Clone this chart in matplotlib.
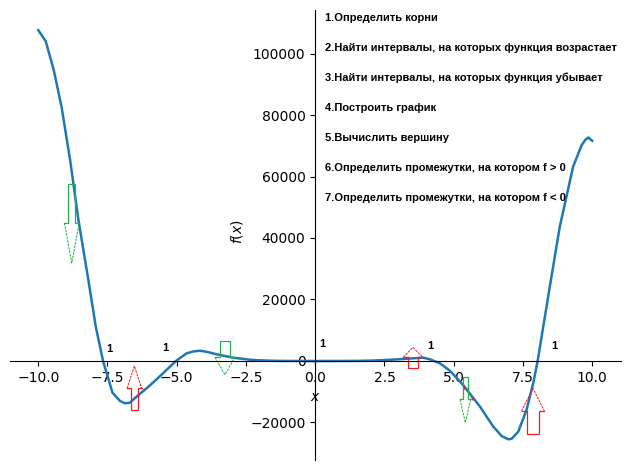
import matplotlib
matplotlib.use("Agg")
import matplotlib.pyplot as plt

# curve values
x_vals = [-10, -9.73, -9.44, -9.16, -8.85, -8.55, -8.19, -7.92, -7.66, -7.32, -7.05, -6.87, -6.7,
          -6.45, -6.0, -5.6, -5.03, -4.64, -4.4, -4.16, -3.9, -3.56, -2.96, -2.36, -2.1, -1.5, -1, 0,
          1, 1.5, 2, 2.5, 3, 3.5, 3.9, 4.14, 4.5, 4.86, 5.34, 5.95, 6.43, 6.73, 6.97, 7.09, 7.33,
          7.63, 7.87, 8.03, 8.47, 8.83, 9.07, 9.31, 9.62, 9.75, 9.86, 10]
y_vals = [107600, 104000, 94600, 82700, 65400, 45900, 26300, 11000, 0, -10300, -13000, -13750, -13600,
          -11600, -8200, -4900, 0, 2500, 3100, 3350, 2950, 2180, 1070, 420, 250, 60, 10, 0,
          10, 40, 120, 300, 550, 850, 1070, 550, -750, -3150, -7800, -14860, -21350, -24400, -25470, -25300, -23000,
          -15900, -7250, 0, 24200, 43700, 53400, 63200, 70200, 71900, 72700, 71600]

# hand drawn arrows: centre x, tail y, head base y, tip y, half widths of shaft and head
green_arrows = [(-8.79, 57560, 44880, 31870, 0.127, 0.265),
                (-3.26, 6400, 1200, -4450, 0.17, 0.36),
                (5.42, -5300, -12450, -20060, 0.097, 0.193)]
red_arrows = [(-6.53, -16030, -8880, -1630, 0.134, 0.26),
              (3.53, -2180, 1200, 4450, 0.17, 0.35),
              (7.86, -23840, -16260, -8880, 0.206, 0.41)]

# bits of an older red arrow still visible next to the green one
red_bits_x = [(5.36, 5.40), (5.65, 5.69)]
red_bits_y = [(-8130, -9200), (-11800, -12700)]

# the small "1" labels on the plot
one_x = [-7.42, -5.43, 0.27, 4.15, 8.62]
one_y = [3900, 4230, 5530, 4880, 4880]

tasks = ["1.Определить корни",
         "2.Найти интервалы, на которых функция возрастает",
         "3.Найти интервалы, на которых функция убывает",
         "4.Построить график",
         "5.Вычислить вершину",
         "6.Определить промежутки, на котором f > 0",
         "7.Определить промежутки, на котором f < 0"]
task_rows = [18, 48, 78, 108, 138, 168, 198]

fig = plt.figure(figsize=(6.3, 4.7), dpi=100)
ax = fig.add_axes([10 / 630, 10 / 470, 611 / 630, 450 / 470])

ax.plot(x_vals, y_vals, color="C0", linewidth=1.8)
ax.set_xlim(-11.02, 11.04)
ax.set_ylim(-32200, 114150)

ax.spines["left"].set_position("zero")
ax.spines["bottom"].set_position("zero")
ax.spines["top"].set_visible(False)
ax.spines["right"].set_visible(False)

ax.set_xticks([-10, -7.5, -5, -2.5, 0, 2.5, 5, 7.5, 10])
ax.set_yticks([-20000, 0, 20000, 40000, 60000, 80000, 100000])
ax.set_xlabel("$x$", va="center")
ax.set_ylabel("$f(x)$", va="center")
ax.xaxis.set_label_coords(0.5, 0.14)
ax.yaxis.set_label_coords(0.3715, 0.507)


def draw_arrow(arrow, color):
    cx, tail, base, tip, shaft, head = arrow
    # shaft and head base are solid, the slanted head edges look dotted in the original
    xs = [cx - head, cx - shaft, cx - shaft, cx + shaft, cx + shaft, cx + head]
    ys = [base, base, tail, tail, base, base]
    ax.plot(xs, ys, color=color, linewidth=0.9, snap=True, solid_joinstyle="miter")
    ax.plot([cx - head, cx, cx + head], [base, tip, base], color=color, linewidth=0.72,
            linestyle=(0, (2.5, 1)))


for arrow in green_arrows:
    draw_arrow(arrow, "#22b14c")
for arrow in red_arrows:
    draw_arrow(arrow, "#ed1c24")
for bx, by in zip(red_bits_x, red_bits_y):
    ax.plot(bx, by, color="#ed1c24", linewidth=0.8)

for x, y in zip(one_x, one_y):
    ax.text(x, y, "1", fontsize=8, fontweight="bold", ha="center", va="center",
            family="Liberation Sans")

for row, task in zip(task_rows, tasks):
    fig.text(325 / 630, 1 - row / 470, task, fontsize=8, fontweight="bold", va="center",
             family="Liberation Sans")

plt.savefig("out.png", dpi=100)
plt.close()
